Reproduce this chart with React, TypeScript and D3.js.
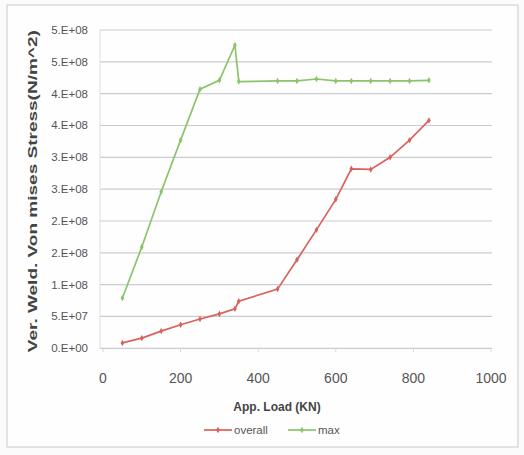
import React, { useEffect, useRef } from 'react';
import * as d3 from 'd3';

const loads = [50, 100, 150, 200, 250, 300, 340, 350, 450, 500, 550, 600, 640, 690, 740, 790, 840];
const overall = [8.5e6, 1.6e7, 2.7e7, 3.7e7, 4.6e7, 5.4e7, 6.2e7, 7.4e7, 9.3e7, 1.39e8, 1.86e8, 2.34e8, 2.82e8, 2.81e8, 3.0e8, 3.27e8, 3.58e8];
const maxStress = [7.9e7, 1.59e8, 2.46e8, 3.27e8, 4.07e8, 4.21e8, 4.76e8, 4.19e8, 4.2e8, 4.2e8, 4.23e8, 4.2e8, 4.2e8, 4.2e8, 4.2e8, 4.2e8, 4.21e8];
const yTicks = [0, 5e7, 1e8, 1.5e8, 2e8, 2.5e8, 3e8, 3.5e8, 4e8, 4.5e8, 5e8];
const yTickLabels = ['0.E+00', '5.E+07', '1.E+08', '2.E+08', '2.E+08', '3.E+08', '3.E+08', '4.E+08', '4.E+08', '5.E+08', '5.E+08'];
const xTicks = [0, 200, 400, 600, 800, 1000];

const RED = '#d8625c';
const GREEN = '#8cc46c';

function App() {
    const svgRef = useRef<SVGSVGElement>(null);

    useEffect(() => {
        const svg = d3.select(svgRef.current);
        svg.selectAll('*').remove();

        const width = 524;
        const height = 455;
        const margin = { top: 30, right: 32, bottom: 107, left: 100 };

        svg.append('rect')
            .attr('width', width).attr('height', height)
            .attr('fill', '#fbfbfb');
        svg.append('rect')
            .attr('x', 7).attr('y', 5).attr('width', 511).attr('height', 442)
            .attr('fill', '#fefefe').attr('stroke', '#c9c9c9');

        const xScale = d3.scaleLinear().domain([0, 1000]).range([103, 491]);
        const yScale = d3.scaleLinear().domain([0, 5e8]).range([height - margin.bottom + 0.3, margin.top]);

        // gridlines
        svg.append('g')
            .selectAll('line')
            .data(yTicks)
            .enter()
            .append('line')
            .attr('x1', margin.left)
            .attr('x2', width - margin.right)
            .attr('y1', d => yScale(d))
            .attr('y2', d => yScale(d))
            .attr('stroke', '#c9ccd3')
            .attr('stroke-width', 1.2);

        // y axis line
        svg.append('line')
            .attr('x1', margin.left).attr('x2', margin.left)
            .attr('y1', yScale(5e8)).attr('y2', yScale(0))
            .attr('stroke', '#dcdee2');

        // x ticks
        svg.append('g')
            .selectAll('line')
            .data(xTicks)
            .enter()
            .append('line')
            .attr('x1', d => xScale(d)).attr('x2', d => xScale(d))
            .attr('y1', yScale(0)).attr('y2', yScale(0) + 4)
            .attr('stroke', '#d6d8dc');

        // y labels
        svg.append('g')
            .selectAll('text')
            .data(yTicks)
            .enter()
            .append('text')
            .attr('x', 88)
            .attr('y', d => yScale(d) + 4)
            .attr('text-anchor', 'end')
            .style('font-family', 'Liberation Sans, Arial, sans-serif')
            .style('font-size', '11.5px')
            .style('fill', '#555')
            .text((_, i) => yTickLabels[i]);

        // x labels
        svg.append('g')
            .selectAll('text')
            .data(xTicks)
            .enter()
            .append('text')
            .attr('x', d => xScale(d))
            .attr('y', 383)
            .attr('text-anchor', 'middle')
            .style('font-family', 'Liberation Sans, Arial, sans-serif')
            .style('font-size', '14px')
            .style('fill', '#555')
            .text(d => d);

        const lineGenerator = d3.line<number>()
            .x((_, i) => xScale(loads[i]))
            .y(d => yScale(d));

        const series = [
            { name: 'overall', values: overall, color: RED },
            { name: 'max', values: maxStress, color: GREEN },
        ];

        series.forEach(s => {
            svg.append('path')
                .datum(s.values)
                .attr('fill', 'none')
                .attr('stroke', s.color)
                .attr('stroke-width', 1.7)
                .attr('d', lineGenerator);
            svg.append('g')
                .selectAll('path')
                .data(s.values)
                .enter()
                .append('path')
                .attr('transform', (d, i) => `translate(${xScale(loads[i])},${yScale(d)})`)
                .attr('d', d3.symbol(d3.symbolDiamond, 12)())
                .attr('fill', s.color);
        });

        // Y Axis label
        svg.append('text')
            .attr('transform', `translate(37,${(yScale(0) + yScale(5e8)) / 2 + 2}) rotate(-90)`)
            .attr('text-anchor', 'middle')
            .attr('textLength', 322)
            .attr('lengthAdjust', 'spacingAndGlyphs')
            .style('font-family', 'Liberation Sans, Arial, sans-serif')
            .style('font-size', '12px')
            .style('font-weight', 'bold')
            .style('fill', '#444')
            .text('Ver. Weld. Von mises Stress(N/m^2)');

        // X Axis label
        svg.append('text')
            .attr('x', 277)
            .attr('y', 411)
            .attr('text-anchor', 'middle')
            .style('font-family', 'Liberation Sans, Arial, sans-serif')
            .style('font-size', '12px')
            .style('font-weight', 'bold')
            .style('fill', '#444')
            .text('App. Load (KN)');

        // legend
        const legend = svg.append('g').attr('transform', 'translate(204,430)');
        const legendItems = [
            { name: 'overall', color: RED, x: 0 },
            { name: 'max', color: GREEN, x: 84 },
        ];
        legendItems.forEach(item => {
            const g = legend.append('g').attr('transform', `translate(${item.x},0)`);
            g.append('line')
                .attr('x1', 0).attr('x2', 28)
                .attr('stroke', item.color).attr('stroke-width', 1.7);
            g.append('path')
                .attr('transform', 'translate(14,0)')
                .attr('d', d3.symbol(d3.symbolDiamond, 12)())
                .attr('fill', item.color);
            g.append('text')
                .attr('x', 30).attr('y', 4)
                .style('font-family', 'Liberation Sans, Arial, sans-serif')
                .style('font-size', '11.5px')
                .style('fill', '#555')
                .text(item.name);
        });
    }, []);

    return (
        <svg ref={svgRef} width={524} height={455} style={{ position: 'absolute', left: 0, top: 0 }}></svg>
    );
}

export default App;
